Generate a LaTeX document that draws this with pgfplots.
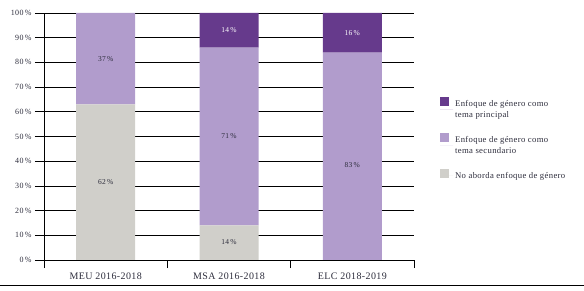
\documentclass[border=0pt]{standalone}
\usepackage{fontspec}
\setmainfont[LetterSpace=4]{Liberation Serif}
\usepackage{pgfplots}
\pgfplotsset{compat=1.18}
\definecolor{cprin}{RGB}{102,58,140}
\definecolor{csec}{RGB}{177,156,204}
\definecolor{cno}{RGB}{208,207,202}
\definecolor{ctxt}{RGB}{45,45,60}
\tikzset{
  legoff/.initial=0bp,
  lbl/.style={font=\fontsize{7.5}{8}\selectfont, text=ctxt},
}
\begin{document}
\begin{tikzpicture}
\path[use as bounding box] (-44bp,-31bp) rectangle (540bp,260bp);
\begin{axis}[
  at={(0,0)}, anchor=south west,
  scale only axis, width=370bp, height=247bp,
  ybar stacked, bar width=59bp,
  every axis plot post/.append style={legend image code/.code={%
    \fill[##1,draw=none] (0bp,{-2bp+\pgfkeysvalueof{/tikz/legoff}}) rectangle (9bp,{7bp+\pgfkeysvalueof{/tikz/legoff}});
    \path (0bp,0bp) -- (13bp,0bp);}},
  xmin=-0.5, xmax=2.5, ymin=0, ymax=100,
  axis x line*=bottom, axis y line*=left,
  axis line style={black, line width=0.8pt, -},
  xtick={0,1,2},
  xticklabels={MEU 2016-2018, MSA 2016-2018, ELC 2018-2019},
  major x tick style={draw=none},
  minor xtick={-0.5,0.5,1.5,2.5},
  minor tick length=8bp,
  ytick={0,10,...,100},
  yticklabel={\pgfmathprintnumber{\tick}\,\%},
  tick align=outside, major tick length=9bp,
  tick style={black, line width=0.7pt},
  ymajorgrids, grid style={black, line width=0.7pt},
  yticklabel style={font=\fontsize{8}{9}\selectfont, text=ctxt},
  xticklabel style={font=\fontsize{10}{12}\selectfont, text=ctxt},
  /pgf/number format/assume math mode=true,
  reverse legend,
  legend cell align=left,
  legend style={draw=none, fill=none, at={(1.062,0.668)}, anchor=north west,
    font=\fontsize{8.7}{11}\selectfont, text=ctxt, row sep=12bp,
    cells={align=left}},
]
\addplot[fill=cno, draw=none] coordinates {(0,63) (1,14) (2,0)};
\addlegendentry{No aborda enfoque de género}
\addplot[fill=csec, draw=none, legoff=5.5bp] coordinates {(0,37) (1,72) (2,84)};
\addlegendentry{Enfoque de género como\\tema secundario}
\addplot[fill=cprin, draw=none, legoff=5.5bp] coordinates {(0,0) (1,14) (2,16)};
\addlegendentry{Enfoque de género como\\tema principal}
\coordinate (a1) at (axis cs:0,81.5);
\coordinate (a2) at (axis cs:0,31.5);
\coordinate (b1) at (axis cs:1,93);
\coordinate (b2) at (axis cs:1,50);
\coordinate (b3) at (axis cs:1,7.3);
\coordinate (c1) at (axis cs:2,92);
\coordinate (c2) at (axis cs:2,38.5);
\end{axis}
\node[lbl] at (a1) {37\,\%};
\node[lbl] at (a2) {62\,\%};
\node[lbl, text=white] at (b1) {14\,\%};
\node[lbl] at (b2) {71\,\%};
\node[lbl] at (b3) {14\,\%};
\node[lbl, text=white] at (c1) {16\,\%};
\node[lbl] at (c2) {83\,\%};
\draw[black, line width=0.8pt] (-44bp,-25bp) -- (540bp,-25bp);
\end{tikzpicture}
\end{document}
